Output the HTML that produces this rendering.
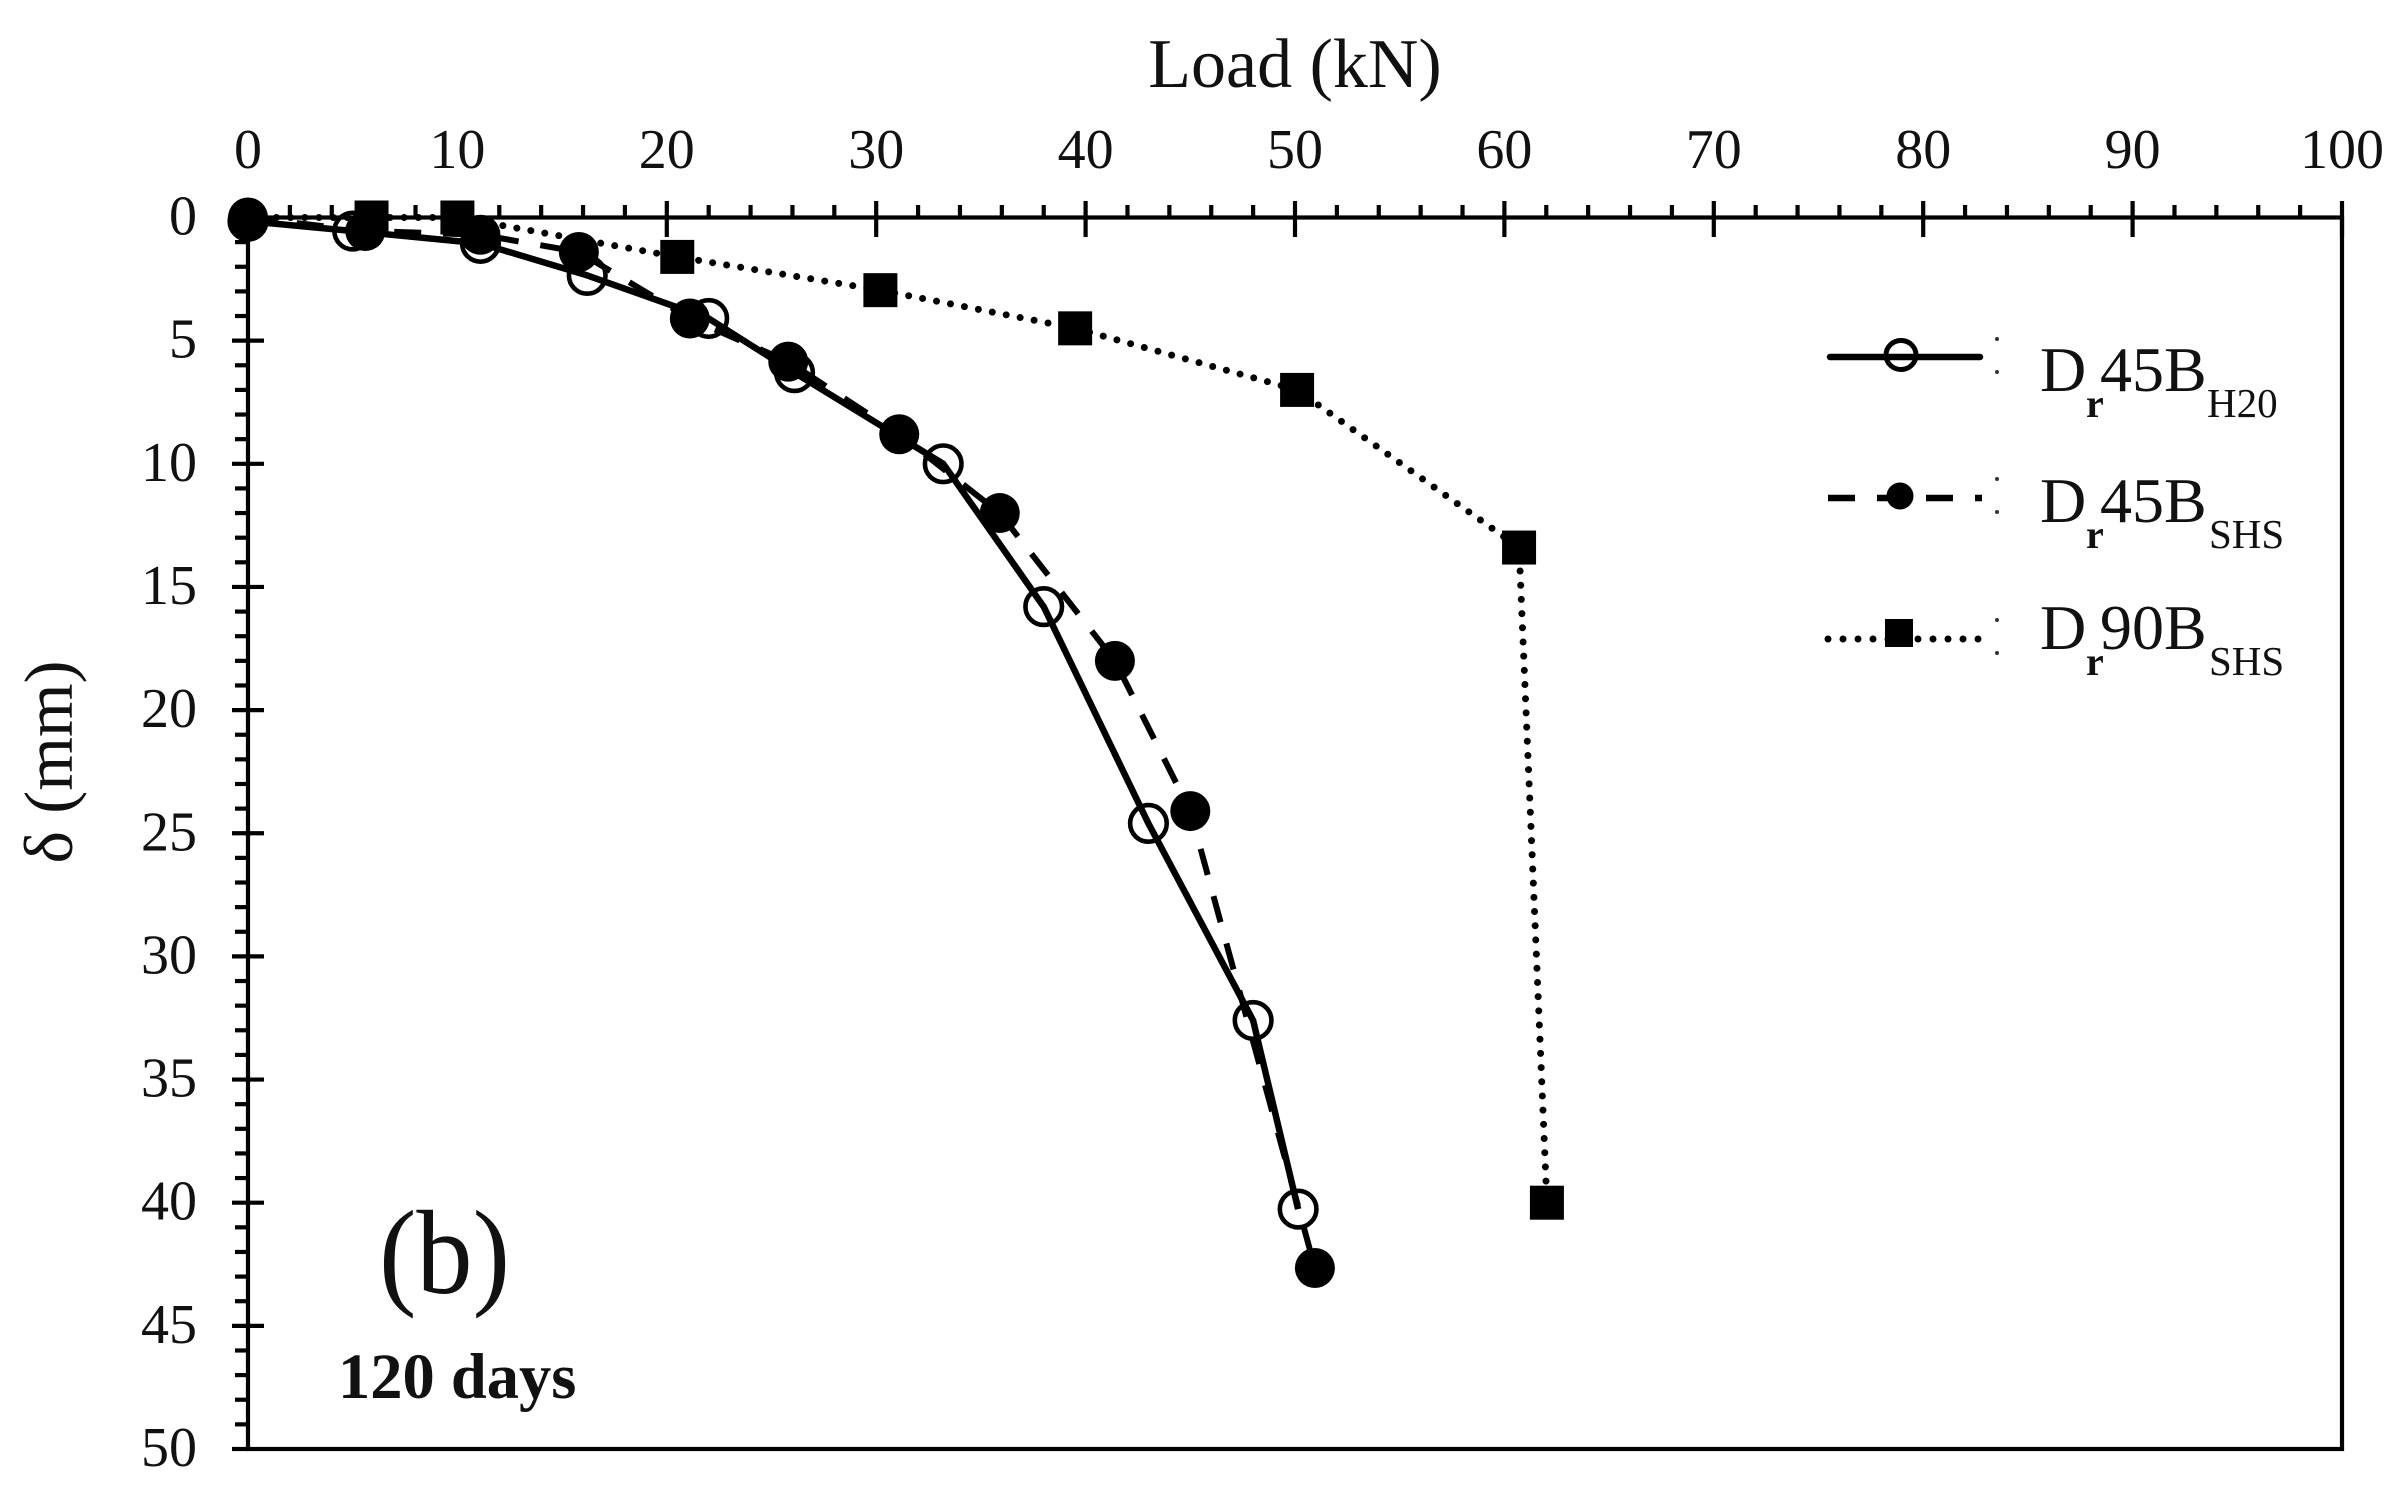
<!DOCTYPE html>
<html lang="en">
<head>
<meta charset="utf-8">
<title>Load versus settlement, 120 days</title>
<style>
html,body{margin:0;padding:0;background:#fff;}
svg{display:block;}
text{font-family:"Liberation Serif",serif;fill:#111;}
</style>
</head>
<body>
<svg id="chart" xmlns="http://www.w3.org/2000/svg" width="2402" height="1498" viewBox="0 0 2402 1498">
  <rect x="0" y="0" width="2402" height="1498" fill="#fff"/>
  <g id="axes"></g>
  <g id="series"></g>
  <text x="1295" y="87" font-size="70" text-anchor="middle">Load (kN)</text>
  <text transform="translate(72,762) rotate(-90)" font-size="69" text-anchor="middle">δ (mm)</text>
  <text x="379" y="1293" font-size="120" textLength="131" lengthAdjust="spacingAndGlyphs">(b)</text>
  <text x="338" y="1398" font-size="64.5" font-weight="bold">120 days</text>

  <g>
    <g>
      <line x1="1830" y1="357" x2="1980" y2="357" stroke="#000" stroke-width="6.5" stroke-linecap="round"/>
      <ellipse cx="1901" cy="355" rx="15" ry="14.5" fill="none" stroke="#000" stroke-width="5"/>
      <circle cx="1997" cy="339" r="2" fill="#333"/>
      <circle cx="1997" cy="372" r="2" fill="#333"/>
      <text font-size="64"><tspan x="2040" y="391">D</tspan><tspan x="2086" y="417" font-size="40" font-weight="bold">r</tspan><tspan x="2100" y="391">45B</tspan><tspan x="2207" y="417" font-size="41">H20</tspan></text>
    </g>
    <g>
      <line x1="1828" y1="498" x2="1982" y2="498" stroke="#000" stroke-width="6.5" stroke-dasharray="27 22"/>
      <circle cx="1900" cy="496" r="13.5" fill="#000"/>
      <circle cx="1997" cy="479" r="2" fill="#333"/>
      <circle cx="1997" cy="512" r="2" fill="#333"/>
      <text font-size="64"><tspan x="2040" y="522">D</tspan><tspan x="2086" y="548" font-size="40" font-weight="bold">r</tspan><tspan x="2100" y="522">45B</tspan><tspan x="2209" y="548" font-size="41">SHS</tspan></text>
    </g>
    <g>
      <line x1="1828" y1="639" x2="1979" y2="639" stroke="#000" stroke-width="7" stroke-linecap="round" stroke-dasharray="0 15"/>
      <rect x="1885" y="619" width="28" height="28" fill="#000"/>
      <circle cx="1997" cy="620" r="2" fill="#333"/>
      <circle cx="1997" cy="653" r="2" fill="#333"/>
      <text font-size="64"><tspan x="2040" y="649">D</tspan><tspan x="2086" y="675" font-size="40" font-weight="bold">r</tspan><tspan x="2100" y="649">90B</tspan><tspan x="2209" y="675" font-size="41">SHS</tspan></text>
    </g>
  </g>
</svg>
<script>
const xTickLabels = ["0","10","20","30","40","50","60","70","80","90","100"];
const yTickLabels = ["0","5","10","15","20","25","30","35","40","45","50"];

const h20Load = [0, 5.0, 11.1, 16.2, 22, 26.1, 33.2, 38, 43, 48, 50.15];
const h20Disp = [0.15, 0.55, 1.05, 2.35, 4.1, 6.3, 10, 15.8, 24.6, 32.6, 40.26];

const shs45Load = [0, 5.6, 11.1, 15.8, 21.1, 25.8, 31.1, 35.9, 41.4, 45, 50.95];
const shs45Disp = [0, 0.55, 0.7, 1.4, 4.1, 5.85, 8.8, 12, 18, 24.1, 42.65];

const shs90Load = [0, 5.9, 10, 20.5, 30.2, 39.5, 50.1, 60.7, 62.03];
const shs90Disp = [0, 0, 0, 1.6, 2.95, 4.5, 7, 13.4, 40];

const NS = "http://www.w3.org/2000/svg";
const plotLeft = 248, plotRight = 2342, plotTop = 217.5, plotBottom = 1449;
const xMax = 100, yMax = 50;
function xScale(v){ return plotLeft + (plotRight - plotLeft) * v / xMax; }
function yScale(v){ return plotTop + (plotBottom - plotTop) * v / yMax; }

function make(tag, attrs, parent){
  const el = document.createElementNS(NS, tag);
  for (const k in attrs) el.setAttribute(k, attrs[k]);
  parent.appendChild(el);
  return el;
}

const axes = document.getElementById("axes");
const series = document.getElementById("series");
const axisStroke = {stroke:"#000", "stroke-width":4.2};

const frame = make("rect", {x:plotLeft, y:plotTop, width:plotRight-plotLeft, height:plotBottom-plotTop, fill:"none", stroke:"#000", "stroke-width":4.2}, axes);



const bottomStub = make("line", Object.assign({x1:232, y1:plotBottom, x2:plotLeft, y2:plotBottom}, axisStroke), axes);



/* x ticks: major every 10, minor every 2 (upward only) */
for (let v = 0; v <= xMax; v += 2) {
  const major = v % 10 === 0;
  const tick = make("line", Object.assign({x1:xScale(v), y1:major?201:205, x2:xScale(v), y2:major?237:plotTop}, axisStroke), axes);
  
  
}
xTickLabels.forEach(function(label){
  const t = make("text", {x:xScale(Number(label)), y:168, "font-size":56, "text-anchor":"middle"}, axes);
  t.textContent = label;
  
  
});

/* y ticks: major every 5 (crossing), minor every 1 (leftward only) */
for (let v = 0; v <= yMax; v += 1) {
  const major = v % 5 === 0;
  if (v === 0 || v === yMax) continue;
  const tick = make("line", Object.assign({x1:major?232:235, y1:yScale(v), x2:major?264:plotLeft, y2:yScale(v)}, axisStroke), axes);
  
  
}
yTickLabels.forEach(function(label){
  const t = make("text", {x:197, y:yScale(Number(label))+17, "font-size":56, "text-anchor":"end"}, axes);
  t.textContent = label;
  
  
});

function pointsOf(xs, ys){
  return xs.map(function(x, i){ return xScale(x).toFixed(1) + "," + yScale(ys[i]).toFixed(1); }).join(" ");
}

/* D90 SHS: dotted with squares */
const lineShs90 = make("polyline", {points:pointsOf(shs90Load, shs90Disp), fill:"none", stroke:"#000", "stroke-width":7, "stroke-linecap":"round", "stroke-dasharray":"0 14.2"}, series);


shs90Load.forEach(function(x, i){
  if (i === 0) return;
  const m = make("rect", {x:xScale(x)-17, y:yScale(shs90Disp[i])-17, width:34, height:34, fill:"#000"}, series);
  
  
});

/* D45 SHS: dashed with filled circles */
const lineShs45 = make("polyline", {points:pointsOf(shs45Load, shs45Disp), fill:"none", stroke:"#000", "stroke-width":6, "stroke-dasharray":"27 22"}, series);


shs45Load.forEach(function(x, i){
  const m = make("circle", {cx:xScale(x), cy:yScale(shs45Disp[i]), r:20, fill:"#000"}, series);
  
  
});

/* D45 H20: solid with open circles */
const lineH20 = make("polyline", {points:pointsOf(h20Load, h20Disp), fill:"none", stroke:"#000", "stroke-width":6.5, "stroke-linejoin":"round"}, series);


h20Load.forEach(function(x, i){
  const m = make("circle", {cx:xScale(x), cy:yScale(h20Disp[i]), r:18.3, fill:"none", stroke:"#000", "stroke-width":4.6}, series);
  
  
});
</script>
</body>
</html>
